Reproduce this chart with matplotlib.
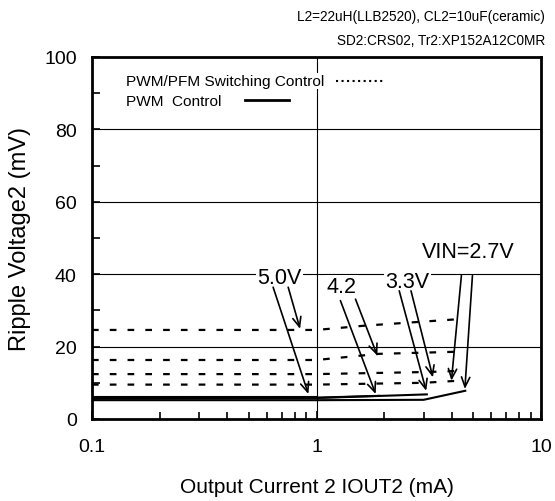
import matplotlib
matplotlib.use("Agg")
import matplotlib.pyplot as plt
from matplotlib.ticker import FixedLocator, NullFormatter, LogLocator

plt.rcParams['font.family'] = ['Liberation Sans', 'DejaVu Sans']

# ---- data ----
# PWM/PFM switching control (dashed)
pfm_50_x = [0.1, 1.0, 1.65, 4.35]
pfm_50_y = [24.6, 24.6, 25.8, 27.6]
pfm_42_x = [0.1, 1.0, 1.9, 4.35]
pfm_42_y = [16.3, 16.3, 18.0, 18.6]
pfm_33_x = [0.1, 1.0, 3.2, 4.35]
pfm_33_y = [12.4, 12.4, 13.0, 13.3]
pfm_27_x = [0.1, 1.0, 3.0, 4.35]
pfm_27_y = [9.5, 9.5, 10.0, 10.6]

# PWM control (solid)
pwm_50_x = [0.1, 1.0]
pwm_50_y = [6.0, 6.0]
pwm_42_x = [0.1, 1.0, 1.9]
pwm_42_y = [5.8, 5.9, 6.4]
pwm_33_x = [0.1, 1.0, 3.1]
pwm_33_y = [5.6, 5.8, 6.8]
pwm_27_x = [0.1, 1.0, 3.0, 4.6]
pwm_27_y = [5.2, 5.2, 5.3, 7.8]

# voltage labels: text, position, arrow (start -> end)
vin_labels = ["5.0V", "4.2", "3.3V", "VIN=2.7V"]
label_x = [0.682, 1.295, 2.54, 4.72]
label_y = [39.2, 36.5, 38.1, 46.4]
arrow_start = [[(0.748, 36.4), (0.641, 36.4)],
               [(1.492, 33.1), (1.278, 32.7)],
               [(2.636, 35.4), (2.336, 35.4)],
               [(4.42, 39.6), (4.95, 39.6)]]
arrow_end = [[(0.845, 24.9), (0.920, 6.9)],
             [(1.867, 17.5), (1.835, 6.9)],
             [(3.30, 11.5), (3.08, 7.8)],
             [(3.99, 10.6), (4.58, 8.3)]]

y_ticks = [0, 20, 40, 60, 80, 100]
x_ticks = [0.1, 1, 10]
x_tick_labels = ["0.1", "1", "10"]

fig = plt.figure(figsize=(5.55, 5.02), dpi=100)
ax = fig.add_axes([92/555, (502-420)/502, (541-92)/555, (420-58)/502])

dash = (0, (3, 5))
for xs, ys in [(pfm_50_x, pfm_50_y), (pfm_42_x, pfm_42_y),
               (pfm_33_x, pfm_33_y), (pfm_27_x, pfm_27_y)]:
    ax.plot(xs, ys, color='black', lw=1.6, linestyle=dash, zorder=3)
for xs, ys in [(pwm_50_x, pwm_50_y), (pwm_42_x, pwm_42_y),
               (pwm_33_x, pwm_33_y), (pwm_27_x, pwm_27_y)]:
    ax.plot(xs, ys, color='black', lw=1.5, zorder=3)

ax.set_xscale('log')
ax.set_xlim(0.1, 10)
ax.set_ylim(0, 100)

ax.xaxis.set_major_locator(FixedLocator(x_ticks))
ax.set_xticklabels(x_tick_labels)
ax.xaxis.set_minor_locator(LogLocator(base=10, subs=range(2, 10)))
ax.xaxis.set_minor_formatter(NullFormatter())
ax.set_yticks(y_ticks)
ax.yaxis.set_minor_locator(FixedLocator([10, 30, 50, 70, 90]))

ax.tick_params(which='both', direction='in', labelsize=14, pad=11, width=1.2)
ax.tick_params(axis='x', which='major', pad=14)
ax.tick_params(which='major', length=6)
ax.tick_params(which='minor', length=5)
ax.tick_params(axis='y', which='minor', length=6)

for s in ax.spines.values():
    s.set_linewidth(2)

for yv in [20, 40, 60, 80]:
    ax.axhline(yv, color='black', lw=0.8, zorder=1)
ax.axvline(1, color='black', lw=0.8, zorder=1)

ax.set_xlabel("Output Current 2 IOUT2 (mA)", fontsize=15)
ax.set_ylabel("Ripple Voltage2 (mV)", fontsize=17)
ax.xaxis.set_label_coords(0.5, -(478-420)/362)
ax.yaxis.set_label_coords(-(92-31)/449, 0.5)

for i, t in enumerate(vin_labels):
    ax.text(label_x[i], label_y[i], t, fontsize=15.5, ha='center', va='center',
            bbox=dict(facecolor='white', edgecolor='none', pad=1), zorder=4)
    for s, e in zip(arrow_start[i], arrow_end[i]):
        ax.annotate('', xy=e, xytext=s,
                    arrowprops=dict(arrowstyle='->,head_length=0.7,head_width=0.3',
                                    lw=1.2, color='black', shrinkA=0, shrinkB=0),
                    zorder=5)

# legend drawn by hand in axes coords
def ax_xy(px, py):
    return ((px - 92) / 449, (420 - py) / 362)

tx, ty = ax_xy(126, 82)
ax.text(tx, ty, "PWM/PFM Switching Control", transform=ax.transAxes, fontsize=11.1,
        ha='left', va='center', bbox=dict(facecolor='white', edgecolor='none', pad=1), zorder=4)
x0, y0 = ax_xy(336, 82)
x1, _ = ax_xy(384, 82)
ax.plot([x0, x1], [y0, y0], transform=ax.transAxes, color='black', lw=1.5, linestyle=':', zorder=4)
tx, ty = ax_xy(126, 102)
ax.text(tx, ty, "PWM  Control", transform=ax.transAxes, fontsize=11.1,
        ha='left', va='center', bbox=dict(facecolor='white', edgecolor='none', pad=1), zorder=4)
x0, y0 = ax_xy(245, 101)
x1, _ = ax_xy(289, 101)
ax.plot([x0, x1], [y0, y0], transform=ax.transAxes, color='black', lw=2, zorder=4)

fig.text(545/555, 1 - 17/502, "L2=22uH(LLB2520), CL2=10uF(ceramic)", ha='right', va='center', fontsize=9.8)
fig.text(545/555, 1 - 41/502, "SD2:CRS02, Tr2:XP152A12C0MR", ha='right', va='center', fontsize=9.8)

fig.savefig("out.png", dpi=100)
